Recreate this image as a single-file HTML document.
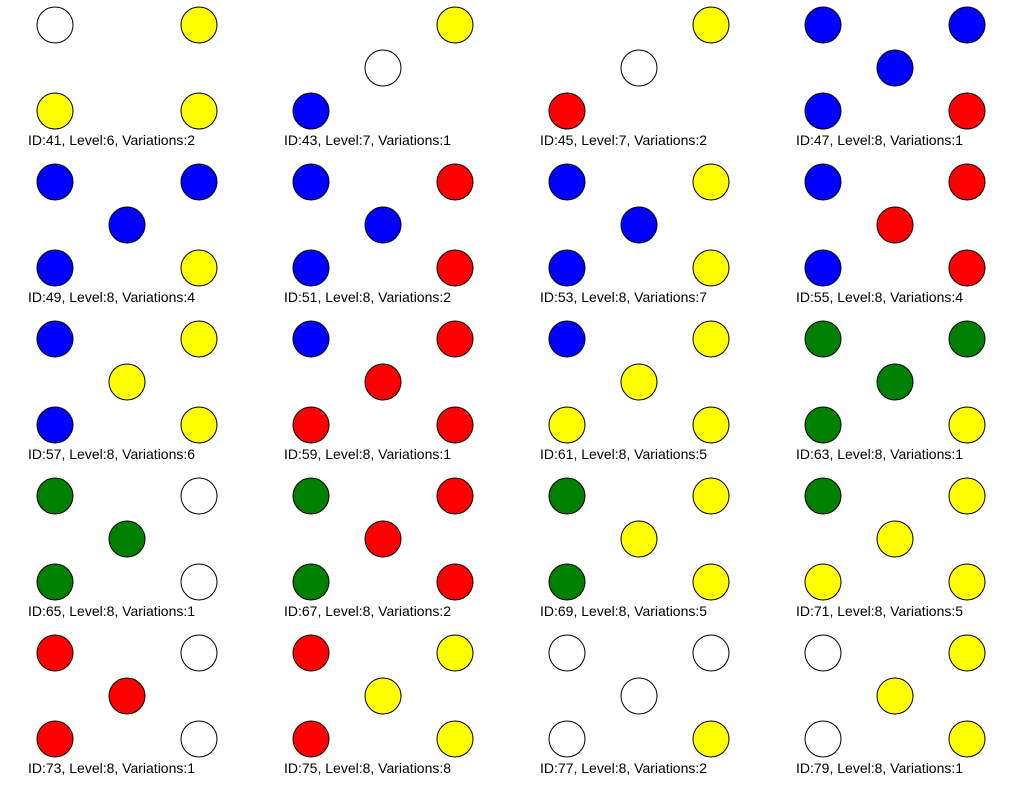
<!DOCTYPE html>
<html><head><meta charset="utf-8"><style>
html,body{margin:0;padding:0;background:#fff;width:1024px;height:786px;overflow:hidden}
svg{display:block}
circle{stroke:#000;stroke-width:1}
text{font-family:"Liberation Sans",Arial,sans-serif;font-size:14px;fill:#000}
.W{fill:#fff}.Y{fill:#ffff00}.B{fill:#0000ff}.R{fill:#ff0000}.G{fill:#008000}
</style></head><body>
<svg width="1024" height="786" viewBox="0 0 1024 786">
<g transform="translate(0,0)"><circle class="W" cx="55" cy="25" r="18"/><circle class="Y" cx="199" cy="25" r="18"/><circle class="Y" cx="55" cy="111" r="18"/><circle class="Y" cx="199" cy="111" r="18"/><text x="28" y="145">ID:41, Level:6, Variations:2</text></g>
<g transform="translate(256,0)"><circle class="Y" cx="199" cy="25" r="18"/><circle class="W" cx="127" cy="68" r="18"/><circle class="B" cx="55" cy="111" r="18"/><text x="28" y="145">ID:43, Level:7, Variations:1</text></g>
<g transform="translate(512,0)"><circle class="Y" cx="199" cy="25" r="18"/><circle class="W" cx="127" cy="68" r="18"/><circle class="R" cx="55" cy="111" r="18"/><text x="28" y="145">ID:45, Level:7, Variations:2</text></g>
<g transform="translate(768,0)"><circle class="B" cx="55" cy="25" r="18"/><circle class="B" cx="199" cy="25" r="18"/><circle class="B" cx="127" cy="68" r="18"/><circle class="B" cx="55" cy="111" r="18"/><circle class="R" cx="199" cy="111" r="18"/><text x="28" y="145">ID:47, Level:8, Variations:1</text></g>
<g transform="translate(0,157)"><circle class="B" cx="55" cy="25" r="18"/><circle class="B" cx="199" cy="25" r="18"/><circle class="B" cx="127" cy="68" r="18"/><circle class="B" cx="55" cy="111" r="18"/><circle class="Y" cx="199" cy="111" r="18"/><text x="28" y="145">ID:49, Level:8, Variations:4</text></g>
<g transform="translate(256,157)"><circle class="B" cx="55" cy="25" r="18"/><circle class="R" cx="199" cy="25" r="18"/><circle class="B" cx="127" cy="68" r="18"/><circle class="B" cx="55" cy="111" r="18"/><circle class="R" cx="199" cy="111" r="18"/><text x="28" y="145">ID:51, Level:8, Variations:2</text></g>
<g transform="translate(512,157)"><circle class="B" cx="55" cy="25" r="18"/><circle class="Y" cx="199" cy="25" r="18"/><circle class="B" cx="127" cy="68" r="18"/><circle class="B" cx="55" cy="111" r="18"/><circle class="Y" cx="199" cy="111" r="18"/><text x="28" y="145">ID:53, Level:8, Variations:7</text></g>
<g transform="translate(768,157)"><circle class="B" cx="55" cy="25" r="18"/><circle class="R" cx="199" cy="25" r="18"/><circle class="R" cx="127" cy="68" r="18"/><circle class="B" cx="55" cy="111" r="18"/><circle class="R" cx="199" cy="111" r="18"/><text x="28" y="145">ID:55, Level:8, Variations:4</text></g>
<g transform="translate(0,314)"><circle class="B" cx="55" cy="25" r="18"/><circle class="Y" cx="199" cy="25" r="18"/><circle class="Y" cx="127" cy="68" r="18"/><circle class="B" cx="55" cy="111" r="18"/><circle class="Y" cx="199" cy="111" r="18"/><text x="28" y="145">ID:57, Level:8, Variations:6</text></g>
<g transform="translate(256,314)"><circle class="B" cx="55" cy="25" r="18"/><circle class="R" cx="199" cy="25" r="18"/><circle class="R" cx="127" cy="68" r="18"/><circle class="R" cx="55" cy="111" r="18"/><circle class="R" cx="199" cy="111" r="18"/><text x="28" y="145">ID:59, Level:8, Variations:1</text></g>
<g transform="translate(512,314)"><circle class="B" cx="55" cy="25" r="18"/><circle class="Y" cx="199" cy="25" r="18"/><circle class="Y" cx="127" cy="68" r="18"/><circle class="Y" cx="55" cy="111" r="18"/><circle class="Y" cx="199" cy="111" r="18"/><text x="28" y="145">ID:61, Level:8, Variations:5</text></g>
<g transform="translate(768,314)"><circle class="G" cx="55" cy="25" r="18"/><circle class="G" cx="199" cy="25" r="18"/><circle class="G" cx="127" cy="68" r="18"/><circle class="G" cx="55" cy="111" r="18"/><circle class="Y" cx="199" cy="111" r="18"/><text x="28" y="145">ID:63, Level:8, Variations:1</text></g>
<g transform="translate(0,471)"><circle class="G" cx="55" cy="25" r="18"/><circle class="W" cx="199" cy="25" r="18"/><circle class="G" cx="127" cy="68" r="18"/><circle class="G" cx="55" cy="111" r="18"/><circle class="W" cx="199" cy="111" r="18"/><text x="28" y="145">ID:65, Level:8, Variations:1</text></g>
<g transform="translate(256,471)"><circle class="G" cx="55" cy="25" r="18"/><circle class="R" cx="199" cy="25" r="18"/><circle class="R" cx="127" cy="68" r="18"/><circle class="G" cx="55" cy="111" r="18"/><circle class="R" cx="199" cy="111" r="18"/><text x="28" y="145">ID:67, Level:8, Variations:2</text></g>
<g transform="translate(512,471)"><circle class="G" cx="55" cy="25" r="18"/><circle class="Y" cx="199" cy="25" r="18"/><circle class="Y" cx="127" cy="68" r="18"/><circle class="G" cx="55" cy="111" r="18"/><circle class="Y" cx="199" cy="111" r="18"/><text x="28" y="145">ID:69, Level:8, Variations:5</text></g>
<g transform="translate(768,471)"><circle class="G" cx="55" cy="25" r="18"/><circle class="Y" cx="199" cy="25" r="18"/><circle class="Y" cx="127" cy="68" r="18"/><circle class="Y" cx="55" cy="111" r="18"/><circle class="Y" cx="199" cy="111" r="18"/><text x="28" y="145">ID:71, Level:8, Variations:5</text></g>
<g transform="translate(0,628)"><circle class="R" cx="55" cy="25" r="18"/><circle class="W" cx="199" cy="25" r="18"/><circle class="R" cx="127" cy="68" r="18"/><circle class="R" cx="55" cy="111" r="18"/><circle class="W" cx="199" cy="111" r="18"/><text x="28" y="145">ID:73, Level:8, Variations:1</text></g>
<g transform="translate(256,628)"><circle class="R" cx="55" cy="25" r="18"/><circle class="Y" cx="199" cy="25" r="18"/><circle class="Y" cx="127" cy="68" r="18"/><circle class="R" cx="55" cy="111" r="18"/><circle class="Y" cx="199" cy="111" r="18"/><text x="28" y="145">ID:75, Level:8, Variations:8</text></g>
<g transform="translate(512,628)"><circle class="W" cx="55" cy="25" r="18"/><circle class="W" cx="199" cy="25" r="18"/><circle class="W" cx="127" cy="68" r="18"/><circle class="W" cx="55" cy="111" r="18"/><circle class="Y" cx="199" cy="111" r="18"/><text x="28" y="145">ID:77, Level:8, Variations:2</text></g>
<g transform="translate(768,628)"><circle class="W" cx="55" cy="25" r="18"/><circle class="Y" cx="199" cy="25" r="18"/><circle class="Y" cx="127" cy="68" r="18"/><circle class="W" cx="55" cy="111" r="18"/><circle class="Y" cx="199" cy="111" r="18"/><text x="28" y="145">ID:79, Level:8, Variations:1</text></g>
</svg>
</body></html>
